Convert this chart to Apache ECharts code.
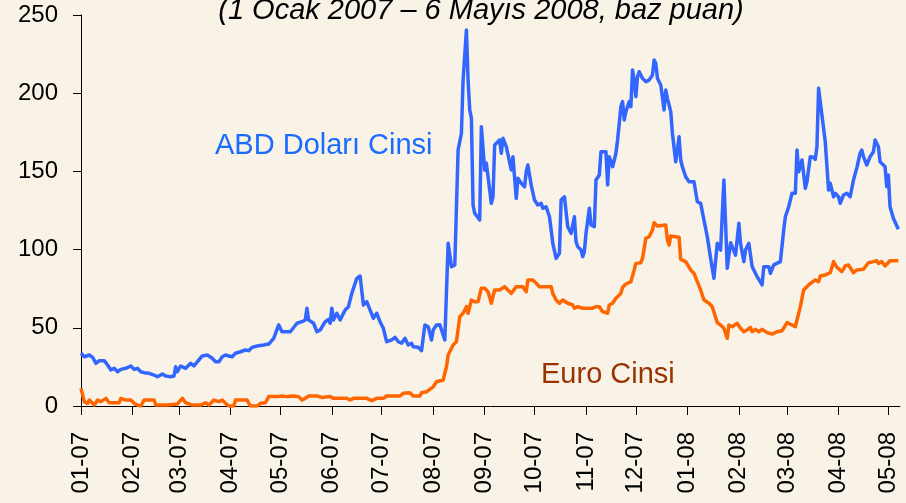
<!DOCTYPE html>
<html>
<head>
<meta charset="utf-8">
<script src="https://cdn.jsdelivr.net/npm/echarts@6/dist/echarts.min.js"></script>
<style>
html,body{margin:0;padding:0;background:#f9f3e7;}
#chart{width:906px;height:503px;}
</style>
</head>
<body>
<div id="chart"></div>
<script>
// gün: 1 Ocak 2007'den itibaren geçen gün sayısı
var usdDays = [0,2,5,7,9,11,14,16,18,20,22,24,27,30,32,34,36,38,41,44,46,49,51,54,56,57,58,60,63,66,68,70,73,76,79,81,83,85,87,89,91,93,96,99,101,103,106,107,110,113,116,119,121,126,130,133,135,136,137,140,142,144,147,149,150,151,152,154,156,159,161,163,164,166,168,169,170,172,174,176,178,180,182,184,187,189,191,193,195,197,199,200,203,205,207,209,211,212,214,216,217,219,221,223,225,227,229,230,232,233,234,235,236,237,240,241,243,244,245,247,248,249,252,253,254,256,257,259,260,262,263,265,267,268,269,271,273,275,277,278,280,282,283,284,286,288,289,291,293,295,297,298,299,301,302,303,304,306,307,309,310,312,313,316,317,318,320,322,323,325,326,327,328,330,331,332,333,334,335,336,338,340,342,344,345,346,347,348,349,351,352,353,355,356,358,359,360,361,362,364,366,369,371,373,375,377,379,381,383,384,385,387,388,389,391,392,394,396,397,399,400,402,404,407,410,411,414,415,417,421,423,424,426,428,430,431,432,433,434,436,437,438,439,441,442,443,444,445,448,450,451,453,454,456,457,459,461,463,465,467,469,470,471,472,473,475,477,478,480,481,484,485,486,487,489,492];
var usdVals = [33.7,31.5,32.6,31.1,27.3,29,29,26.2,23,24.1,21.9,23.4,24.1,25.6,23.4,24.1,21.9,21.3,20.9,19.8,18.7,20.5,19.2,18.7,19.2,25.1,21.9,25.6,24.1,27.3,25.6,28.3,32,32.6,30.5,28.3,28.3,31.5,32.6,32,31.5,33.7,34.7,35.8,35.4,37.5,38.4,39.6,39,39.6,43.3,51.8,47.5,47.5,52.9,53.9,55,62.5,55,52.9,47.5,48.6,53.9,55.4,52.9,62.5,55,59.3,55,61.4,63.5,72,73.1,81.6,83.1,82.7,64.6,66.7,61.4,56.1,59.3,53.9,49.7,41.1,42.2,43.9,41.1,40.1,43.3,39,40.1,37.9,37.5,35.4,51.8,50.7,42.2,48.6,51.8,52,51.8,42.2,104,89.1,90.2,163.7,174.4,208.4,240.4,208.4,189.3,183.9,128.5,123.2,118.9,178.6,150.9,155.2,156.2,129.6,133.8,166.9,170.1,161.6,171.2,165.8,166.9,150.9,159.4,132.8,145.6,142.4,140.2,149.8,154.1,141.3,131.7,128.5,129.6,126.4,127.4,121,112.5,104,94.4,97.6,131.7,133.8,114.6,110.4,121,105,101.9,99.7,95.5,98.7,110.4,126.4,115.7,114.6,144.5,147.7,162.6,162.6,141.3,159.4,153,161.6,170.1,191.4,194.6,182.9,188.2,194.6,191.4,214.8,208.4,197.8,210.6,213.7,209.5,207.4,208.4,211.6,221.2,219.1,209.5,210.6,205.2,189.3,202,196.7,188.2,174.4,156.2,163.7,172.2,157.3,153,146.6,143.4,143.4,130.6,129.6,118.9,108.2,94.4,81.6,104,105,99.7,144.5,116.8,88,104.4,101.9,96.5,116.8,104,92.3,99.7,104,89.1,82.7,77.4,89.1,89.1,84.8,90.2,92.3,112.5,121,127.4,136,136,163.7,149.8,150.9,157.3,139.2,143.4,144.5,159.4,159,157.7,165.8,203.1,203.1,169,138.1,142.4,133.8,136,133.8,129.6,134.9,136,133.8,144.5,152.2,161.6,163.7,159.4,159,154.1,159.4,162.6,170.1,165.8,156.2,153,140.2,147.7,127.4,120,113];

var eurDays = [0,2,4,5,8,10,12,15,17,23,24,27,30,32,34,36,38,44,45,52,58,61,63,67,72,75,77,80,83,85,87,89,92,93,100,102,106,108,111,113,115,116,118,121,124,128,131,133,135,137,142,145,150,152,160,162,164,172,175,178,182,184,192,194,198,200,204,205,208,210,212,214,218,220,221,224,226,228,230,232,233,235,237,239,241,243,245,247,249,252,255,257,259,262,266,268,269,272,274,276,283,284,286,288,290,293,296,297,299,302,308,310,312,314,317,318,320,322,325,326,328,331,333,334,337,338,339,340,342,344,345,347,352,353,354,355,360,361,364,365,367,369,371,373,375,376,378,380,383,385,387,389,390,392,395,397,399,401,403,404,406,408,410,413,416,419,422,425,428,430,433,435,438,439,442,444,445,448,451,453,455,458,460,462,465,467,468,471,474,477,479,480,482,484,487,492];
var eurVals = [11.3,2.8,1.7,3.8,0.6,3.8,2.8,4.9,2.1,2.1,4.9,3.8,3.8,1.7,0.6,0,3.8,3.8,0.6,0.6,1.3,4.9,2.1,0.6,0.6,2.1,0.6,3.8,2.8,3.8,1.7,0,0,3.8,3.8,0,0,1.7,2.1,6,6,4.9,6,6.4,6,6.4,6,3.8,4.9,6.4,6.4,5.5,6,4.9,4.9,3.8,4.9,4.9,3.4,4.9,4.9,6.4,6.4,8.1,8.5,6.4,6.4,8.5,9.1,10.6,12.3,15.5,16.6,25.1,32.6,39,41.1,57.1,59.3,63.5,59.3,67.8,66.7,66.7,75.3,75.3,73.1,65.7,74.2,74.2,76.3,74.2,72,76.3,76.3,73.1,80.6,80.6,78.5,76.3,76.3,72,67.8,65.7,67.8,65.7,64.6,62.5,63.5,62.5,62.5,63.5,63.5,60.3,59.3,64.6,65.7,68.9,72,75.9,78,79.5,87,91.2,91.6,94.4,93.8,107.2,108.2,112.5,117.2,115.1,115.7,106.1,102.9,108.7,107.9,93.8,92.3,91.2,87,84.8,79.5,74.2,67.8,66.7,65.7,63.5,53.3,51.8,49.7,43.3,51.8,50.7,52.9,49.7,47.5,48.6,50.3,47.5,49,47.5,49,46.9,46,47.5,48.1,53.3,51.8,50.7,63.5,74.2,77.4,76.7,80.6,79.5,83.1,83.8,85.2,92.3,88.7,85.9,89.5,90.2,85.2,87,85.9,87.4,91.6,92.3,92.9,91.2,92.3,89.5,92.9,92.9];

var monthLabels = ['01-07','02-07','03-07','04-07','05-07','06-07','07-07','08-07','09-07','10-07','11-07','12-07','01-08','02-08','03-08','04-08','05-08'];

// ay başlarının 1 Ocak 2007'ye göre gün sırası
function monthDay(lbl){
	var p = lbl.split('-');
	var t = Date.UTC(2000 + (+p[1]), (+p[0]) - 1, 1);
	return Math.round((t - Date.UTC(2007, 0, 1)) / 86400000);
}
function pairs(days, vals){
	return days.map(function(d, i){ return [d, vals[i]]; });
}

var tickDays = monthLabels.map(monthDay);
var fontFam = '"Liberation Sans", Arial, Helvetica, sans-serif';

var chart = echarts.init(document.getElementById('chart'));
chart.setOption({
	backgroundColor: '#f9f3e7',
	animation: false,
	grid: { left: 81, right: 6, top: 15, bottom: 97 },
	xAxis: {
		type: 'value',
		min: 0,
		max: 493,
		axisLine: { show: true, onZero: false, lineStyle: { color: '#000', width: 1 } },
		axisTick: { show: true, length: 9, lineStyle: { color: '#000' }, customValues: tickDays },
		axisLabel: {
			rotate: 90,
			margin: 26,
			fontSize: 24,
			color: '#000',
			fontFamily: fontFam,
			hideOverlap: false,
			showMinLabel: true,
			showMaxLabel: true,
			customValues: tickDays,
			formatter: function (v) {
				var i = tickDays.indexOf(v);
				return i >= 0 ? monthLabels[i] : '';
			}
		},
		splitLine: { show: false }
	},
	yAxis: {
		type: 'value',
		min: 0,
		max: 250,
		interval: 50,
		axisLine: { show: true, lineStyle: { color: '#000', width: 1 } },
		axisTick: { show: true, length: 8, lineStyle: { color: '#000' } },
		axisLabel: { margin: 23, fontSize: 24, color: '#000', fontFamily: fontFam },
		splitLine: { show: false }
	},
	series: [
		{
			name: 'Euro Cinsi',
			type: 'line',
			symbol: 'none',
			lineStyle: { color: '#ff6600', width: 3.5, join: 'round' },
			data: pairs(eurDays, eurVals)
		},
		{
			name: 'ABD Doları Cinsi',
			type: 'line',
			symbol: 'none',
			lineStyle: { color: '#3366ff', width: 3.5, join: 'round' },
			data: pairs(usdDays, usdVals)
		}
	],
	graphic: [
		{
			type: 'text', x: 481, y: 11,
			style: {
				text: '(1 Ocak 2007 – 6 Mayıs 2008, baz puan)',
				font: 'italic 29px ' + fontFam,
				fill: '#000',
				align: 'center', verticalAlign: 'middle',
				textAlign: 'center', textVerticalAlign: 'middle'
			}
		},
		{
			type: 'text', x: 215, y: 146,
			style: {
				text: 'ABD Doları Cinsi',
				font: '29px ' + fontFam,
				fill: '#1a6cff',
				align: 'left', verticalAlign: 'middle',
				textAlign: 'left', textVerticalAlign: 'middle'
			}
		},
		{
			type: 'text', x: 541, y: 375,
			style: {
				text: 'Euro Cinsi',
				font: '29px ' + fontFam,
				fill: '#993300',
				align: 'left', verticalAlign: 'middle',
				textAlign: 'left', textVerticalAlign: 'middle'
			}
		}
	]
});
</script>
</body>
</html>
